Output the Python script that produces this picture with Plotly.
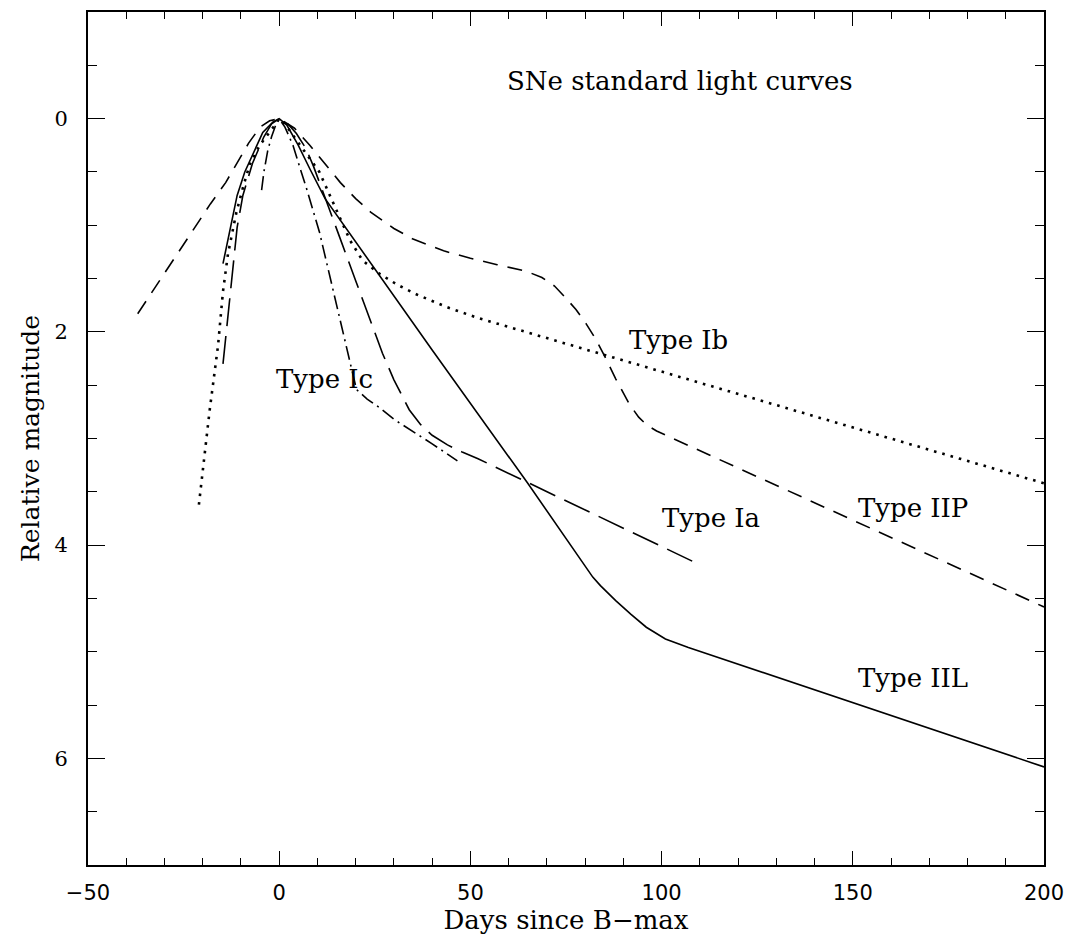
import plotly.graph_objects as go

# ---- data ----
iil_x = [-14.7, -13, -11, -9, -6.4, -4.3, -1.6, 0, 2, 5, 8, 12, 40, 65, 82, 84, 88, 92, 96, 101, 107, 200]
iil_y = [1.36, 1.05, 0.72, 0.5, 0.3, 0.13, 0.03, 0, 0.06, 0.25, 0.47, 0.75, 2.17, 3.42, 4.3, 4.38, 4.52, 4.65, 4.77, 4.88, 4.96, 6.08]

ia_x = [-14.7, -13, -11, -9.5, -7, -4, -2, 0, 2, 4.5, 7, 9, 12, 16, 20, 24, 27, 30, 34, 37, 40, 44, 48, 52, 108]
ia_y = [2.3, 1.7, 1.02, 0.72, 0.42, 0.17, 0.05, 0, 0.04, 0.14, 0.28, 0.45, 0.75, 1.13, 1.52, 1.9, 2.2, 2.45, 2.73, 2.87, 2.97, 3.06, 3.13, 3.19, 4.15]

ib_x = [-21, -18.2, -16, -14.7, -13.4, -11.2, -9.5, -7.7, -5.1, -2.5, -0.9, 0, 1.5, 3.5, 6, 8.5, 10.5, 13, 15.8, 18.5, 21.8, 26, 31, 36, 44, 52, 200]
ib_y = [3.62, 2.74, 2.13, 1.62, 1.27, 0.88, 0.65, 0.43, 0.25, 0.13, 0.05, 0.0, 0.05, 0.15, 0.27, 0.4, 0.5, 0.7, 0.93, 1.14, 1.33, 1.45, 1.56, 1.65, 1.77, 1.87, 3.42]

ic_x = [-4.6, -4, -3, -2, -1, 0, 1.5, 3.6, 5.5, 7.1, 10.5, 14, 16.6, 18.8, 20.2, 23, 26.2, 30, 34.9, 40, 46.6]
ic_y = [0.67, 0.5, 0.3, 0.17, 0.07, 0, 0.08, 0.25, 0.47, 0.65, 1.06, 1.6, 2.0, 2.33, 2.54, 2.63, 2.71, 2.82, 2.93, 3.05, 3.21]

iip_x = [-37, -30, -23, -18, -14, -11, -8, -5, -2.5, 0, 4, 8, 12, 16, 20, 24, 30, 35, 43, 50, 57, 64.5, 68.7, 72, 74.9, 77.6, 80.2, 82.8, 85, 88, 91.6, 94, 96, 98.7, 200]
iip_y = [1.83, 1.45, 1.07, 0.8, 0.6, 0.42, 0.23, 0.08, 0.02, 0, 0.09, 0.25, 0.42, 0.6, 0.75, 0.88, 1.03, 1.13, 1.24, 1.31, 1.37, 1.43, 1.49, 1.57, 1.68, 1.79, 1.92, 2.07, 2.22, 2.44, 2.68, 2.8, 2.87, 2.93, 4.58]

labels = ["SNe standard light curves", "Type Ib", "Type Ic", "Type IIP", "Type Ia", "Type IIL"]
label_x = [104.7, 104.5, 11.9, 165.8, 112.9, 165.8]
label_y = [-0.35, 2.08, 2.44, 3.65, 3.75, 5.25]

x_ticks = [-50, 0, 50, 100, 150, 200]
y_ticks = [0, 2, 4, 6]

# ---- figure ----
fig = go.Figure()
lw = 1.6
fig.add_trace(go.Scatter(x=iil_x, y=iil_y, mode="lines", line=dict(color="black", width=lw, dash="solid")))
fig.add_trace(go.Scatter(x=ia_x, y=ia_y, mode="lines", line=dict(color="black", width=lw, dash="28px,10px")))
fig.add_trace(go.Scatter(x=ib_x, y=ib_y, mode="lines", line=dict(color="black", width=2.6, dash="2.6px,6px")))
fig.add_trace(go.Scatter(x=ic_x, y=ic_y, mode="lines", line=dict(color="black", width=lw, dash="14px,5px,2px,5px")))
fig.add_trace(go.Scatter(x=iip_x, y=iip_y, mode="lines", line=dict(color="black", width=lw, dash="15px,10px")))

serif = "DejaVu Serif"
for t, x, y in zip(labels, label_x, label_y):
    fig.add_annotation(x=x, y=y, text=t, showarrow=False, xanchor="center", yanchor="middle",
                       font=dict(family=serif, size=26, color="black"))

fig.update_layout(
    width=1074, height=939,
    margin=dict(l=88, r=27, t=10, b=72),
    paper_bgcolor="white", plot_bgcolor="white",
    showlegend=False,
)
fig.update_xaxes(
    range=[-50, 200], tickvals=x_ticks, ticktext=[("\u2212" + str(-v)) if v < 0 else str(v) for v in x_ticks],
    ticks="inside", ticklen=14, tickwidth=1.3, tickcolor="black",
    minor=dict(dtick=10, tick0=0, ticks="inside", ticklen=7, tickwidth=1.3, tickcolor="black", showgrid=False),
    showline=True, linecolor="black", linewidth=1.8, mirror="allticks",
    showgrid=False, zeroline=False,
    tickfont=dict(family="DejaVu Sans", size=21, color="black"),
    ticklabelstandoff=8,
    title=dict(text="Days since B\u2212max", font=dict(family=serif, size=26, color="black"), standoff=6),
)
fig.update_yaxes(
    range=[7, -1], tickvals=y_ticks,
    ticks="inside", ticklen=17, tickwidth=1.3, tickcolor="black",
    minor=dict(dtick=0.5, tick0=0, ticks="inside", ticklen=9, tickwidth=1.3, tickcolor="black", showgrid=False),
    showline=True, linecolor="black", linewidth=1.8, mirror="allticks",
    showgrid=False, zeroline=False,
    tickfont=dict(family=serif, size=21, color="black"),
    ticklabelstandoff=14,
    title=dict(text="Relative magnitude", font=dict(family=serif, size=25, color="black"), standoff=8),
)

fig.write_html("out.html")
